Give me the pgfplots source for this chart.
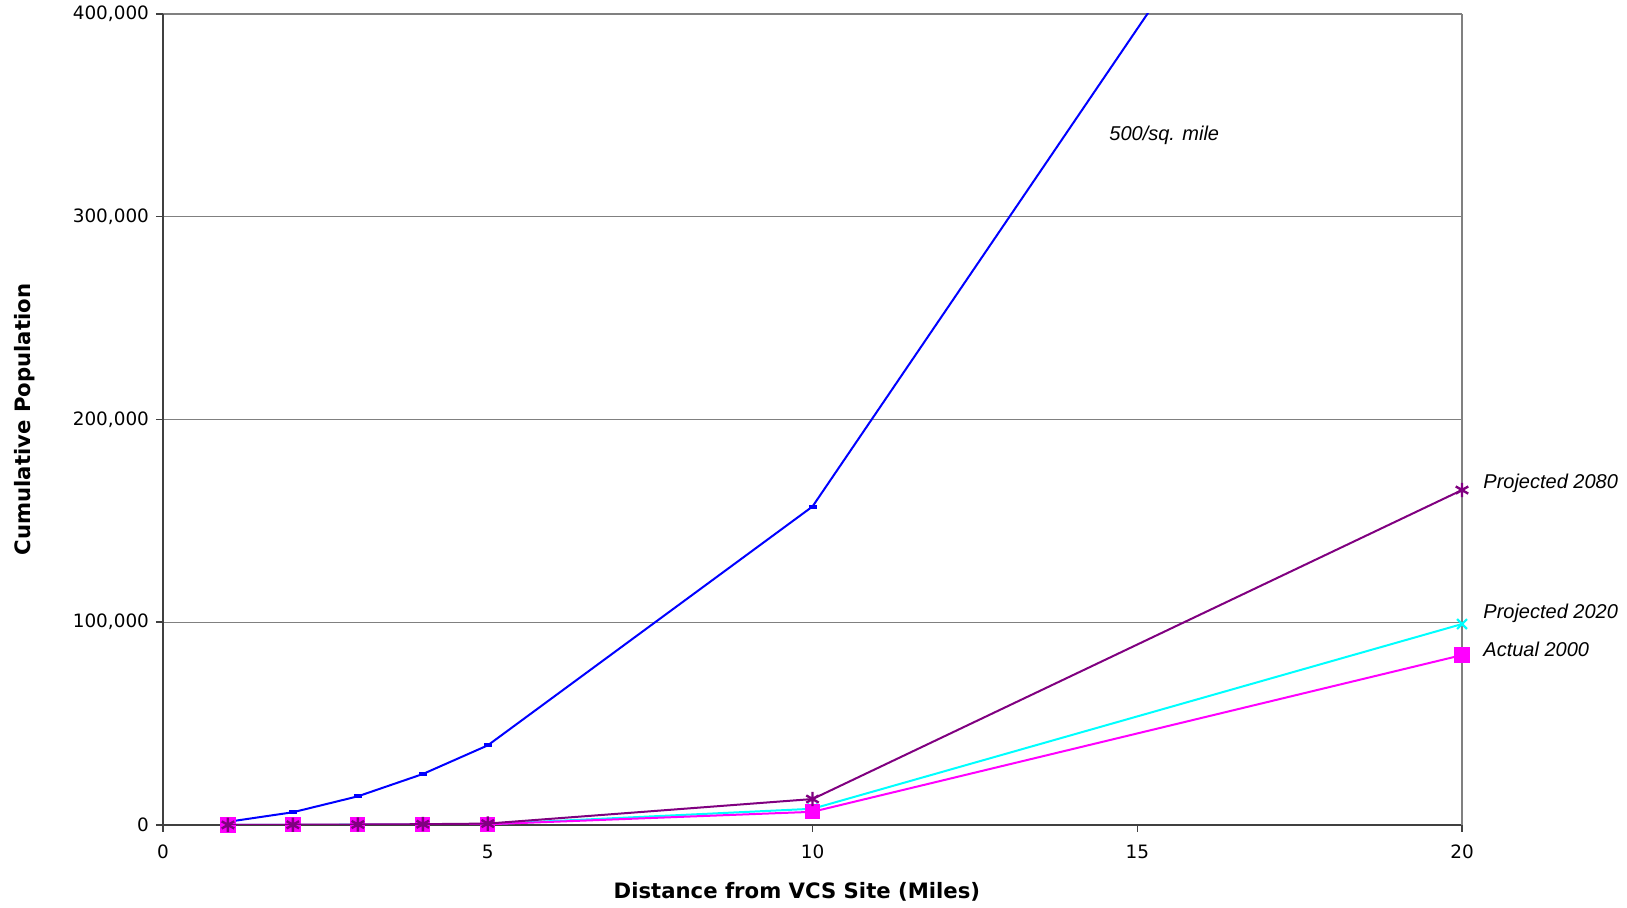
\documentclass[border=0pt]{standalone}
\usepackage{fontspec}
\setmainfont{DejaVu Sans}
\newfontfamily\arialfont{Liberation Sans}
\usepackage{pgfplots}
\pgfplotsset{compat=1.18}
\definecolor{cpurple}{RGB}{128,0,128}
\definecolor{ccyan}{RGB}{0,255,255}
\definecolor{cmag}{RGB}{255,0,255}
\definecolor{cblue}{RGB}{0,0,255}
\begin{document}
\begin{tikzpicture}
\useasboundingbox (-81.5pt,-41.5pt) rectangle (732pt,412.5pt);
\begin{axis}[
  at={(0,0)}, anchor=south west,
  scale only axis, width=649.5pt, height=405.5pt,
  xmin=0, xmax=20, ymin=0, ymax=400000,
  xtick={0,5,10,15,20}, xticklabels={0,5,10,15,20},
  ytick={0,100000,200000,300000,400000},
  yticklabels={0,{100,000},{200,000},{300,000},{400,000}},
  scaled y ticks=false,
  axis x line*=bottom, axis y line*=left,
  axis line style={-, black!75, line width=1pt},
  tick align=outside, major tick length=3.5pt,
  tick style={black!75, line width=0.75pt},
  ymajorgrids, grid style={gray, line width=0.6pt},
  extra x ticks={20}, extra x tick labels={},
  extra x tick style={grid=major, major tick length=0pt},
  tick label style={font=\fontsize{9.2pt}{11pt}\selectfont},
  xticklabel style={yshift=-3pt},
  xlabel={Distance from VCS Site (Miles)},
  ylabel={Cumulative Population},
  label style={font=\bfseries\fontsize{10.6pt}{12pt}\selectfont},
  xlabel style={at={(axis description cs:0.488,-0.0826)}, anchor=center},
  ylabel style={at={(axis description cs:-0.1062,0.5)}, anchor=center},
  clip mode=individual,
]
\addplot[cblue, line width=1pt, mark=-, mark indices={1,2,3,4,5,6},
  mark options={solid, line width=2pt}, mark size=2pt]
  coordinates {(1,1571) (2,6283) (3,14137) (4,25133) (5,39270) (10,157080) (20,628319)};
\addplot[ccyan, line width=1pt, mark=x, mark size=3.5pt, mark options={line width=1.1pt}]
  coordinates {(1,25) (2,70) (3,140) (4,240) (5,420) (10,8000) (20,99100)};
\addplot[cmag, line width=1pt, mark=square*, mark size=3.3pt]
  coordinates {(1,20) (2,60) (3,120) (4,200) (5,350) (10,6500) (20,83800)};
\addplot[cpurple, line width=1pt, mark=asterisk, mark size=3.6pt, mark options={line width=1.2pt}]
  coordinates {(1,40) (2,110) (3,230) (4,400) (5,700) (10,12800) (20,165200)};
\coordinate (a2080) at (axis cs:20,168674);
\coordinate (a2020) at (axis cs:20,104558);
\coordinate (a2000) at (axis cs:20,86803);
\coordinate (a500) at (axis cs:14.565,340308);
\end{axis}
\begin{scope}[every node/.style={anchor=west, inner sep=0pt, font=\arialfont\itshape\fontsize{10pt}{12pt}\selectfont}]
\node[xshift=10.5pt] at (a2080) {Projected 2080};
\node[xshift=10.5pt] at (a2020) {Projected 2020};
\node[xshift=10.5pt] at (a2000) {Actual 2000};
\node at (a500) {500/sq. mile};
\end{scope}
\end{tikzpicture}
\end{document}
